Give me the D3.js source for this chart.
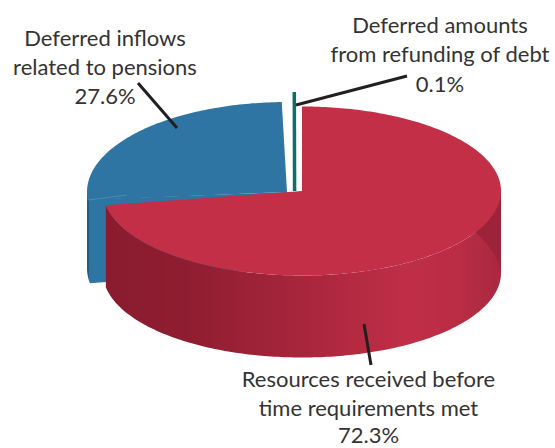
<!DOCTYPE html>
<html><head><meta charset="utf-8">
<script src="https://cdn.jsdelivr.net/npm/d3@7/dist/d3.min.js"></script>
<style>html,body{margin:0;padding:0;background:#fff}svg{display:block}</style>
</head><body>
<script>
const categories = ["Resources received before time requirements met","Deferred inflows related to pensions","Deferred amounts from refunding of debt"];
const values = [72.3, 27.6, 0.1];
const percentLabels = ["72.3%","27.6%","0.1%"];
const labelLines = [["Resources received before","time requirements met","72.3%"],["Deferred inflows","related to pensions","27.6%"],["Deferred amounts","from refunding of debt","0.1%"]];
const colors = ["#c22f47","#2e75a3","#0d6e6a"];

const W=555,H=448,depth=82,blueDepth=76;
const svg=d3.select("body").append("svg").attr("width",W).attr("height",H);
const defs=svg.append("defs");
const arcs=d3.pie().sort(null).value(d=>d)(values);
const geo=[{cx:302,cy:191,rx:199,ry:84.5,a0:0,a1:0},{cx:287,cy:192,rx:200,ry:90,a0:.08,a1:-.02},{cx:294.6,cy:191,rx:99,ry:99,a0:0,a1:0}];
const pt=(g,a,dy=0)=>[g.cx+g.rx*Math.sin(a),g.cy-g.ry*Math.cos(a)+dy];
function arcPath(g,a0,a1,dy=0,move=true){
  const n=Math.max(2,Math.ceil(Math.abs(a1-a0)*60));
  return d3.range(n+1).map(i=>{const p=pt(g,a0+(a1-a0)*i/n,dy);return (i||!move?"L":"M")+p[0].toFixed(2)+","+p[1].toFixed(2)}).join("");
}
// blue slice
const bg=geo[1],bt=arcs[1].startAngle,bs=bt+bg.a0,be=arcs[1].endAngle+bg.a1;
svg.append("path").attr("fill","#2e75a3").attr("d",`M${bg.cx},${bg.cy}L${pt(bg,bt,-8)}L${pt(bg,bt,blueDepth)}L${bg.cx},${bg.cy+blueDepth}Z`);
svg.append("path").attr("fill","#1f5f82").attr("d",`M${pt(bg,bt,-8)}L${pt(bg,3*Math.PI/2)}`+arcPath(bg,3*Math.PI/2,bt,blueDepth,false)+"Z");
svg.append("path").attr("fill",colors[1]).attr("d",`M${bg.cx},${bg.cy}`+arcPath(bg,bs,be,0,false)+"Z");
svg.append("path").attr("fill","none").attr("stroke","#fff").attr("stroke-opacity",.14).attr("d",`M${pt(bg,bs)}L${bg.cx-160},${bg.cy+3}`);
// teal slice
const tg=geo[2],tm=(arcs[2].startAngle+arcs[2].endAngle)/2;
svg.append("path").attr("fill","none").attr("stroke",colors[2]).attr("stroke-width",3.5).attr("d",`M${tg.cx},${tg.cy}L${pt(tg,tm)}`);
// red slice
const rg=geo[0],rs=arcs[0].startAngle,re=arcs[0].endAngle;
const grad=defs.append("linearGradient").attr("id","side").attr("gradientUnits","userSpaceOnUse").attr("x1",105).attr("x2",501).attr("y1",0).attr("y2",0);
const shade=d3.scaleLinear().domain([0,.2,.5,.75,.88,1]).range(["#8a1b2e","#8f1d31","#a8263c","#bf2e46","#bb2d45","#a8283f"]);
const bands=99;
d3.range(bands).forEach(i=>{[i/bands,(i+1)/bands].forEach(o=>grad.append("stop").attr("offset",o).attr("stop-color",shade(i/bands)));});
svg.append("path").attr("fill","url(#side)").attr("d",arcPath(rg,Math.PI/2,re)+arcPath(rg,re,Math.PI/2,depth,false)+"Z");
// inner dark back wall at right
svg.append("path").attr("fill","#9c2339").attr("d","M475,232Q490,210 501,190L501,271Q496,250 475,232Z");
svg.append("path").attr("fill",colors[0]).attr("d",`M${rg.cx},${rg.cy}`+arcPath(rg,rs,re,0,false)+"Z");
// leaders
const leaders=[[[364,324],[371,365]],[[138,83],[177,128]],[[296,105],[407,76]]];
const line=d3.line();
leaders.forEach(l=>svg.append("path").attr("d",line(l)).attr("stroke","#231f20").attr("stroke-width",3).attr("fill","none"));
// labels
const lp=[{x:368.5,y:[387,416,443]},{x:105,y:[46,75,104]},{x:440,y:[33,62,92]}];
labelLines.forEach((ls,i)=>ls.forEach((t,j)=>svg.append("text").attr("x",lp[i].x).attr("y",lp[i].y[j]).attr("text-anchor","middle").attr("font-family","Lato").attr("font-size",22).attr("fill","#333").text(t)));
</script>
</body></html>
